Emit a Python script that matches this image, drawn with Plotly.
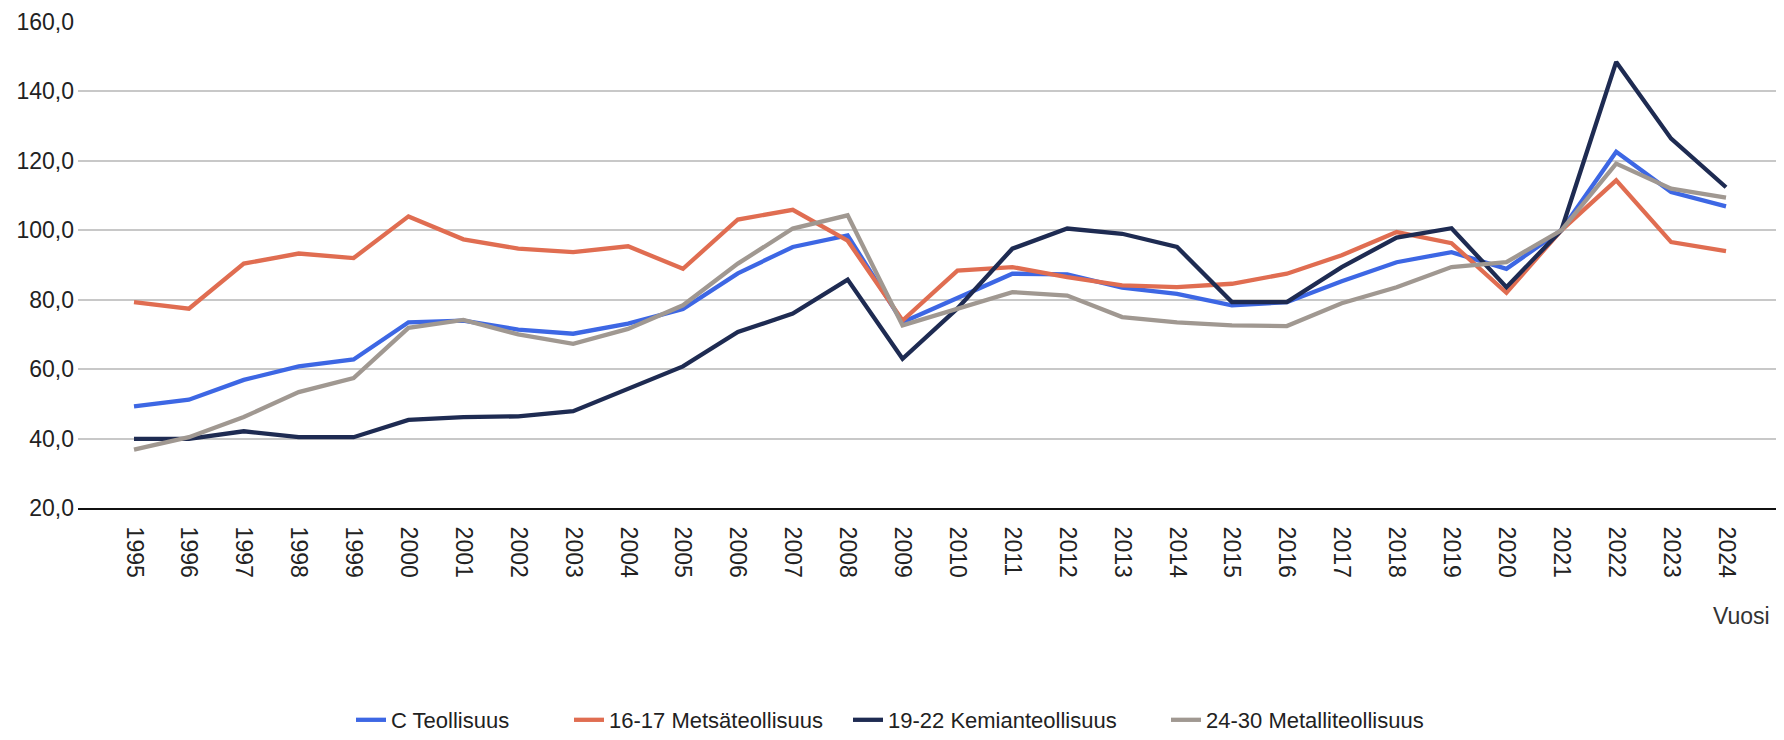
import plotly.graph_objects as go

years = [str(y) for y in range(1995, 2025)]

c_teollisuus = [49.3, 51.2, 56.9, 60.8, 62.8, 73.5, 74.0, 71.4, 70.2, 73.1,
                77.3, 87.6, 95.2, 98.5, 73.5, 80.5, 87.5, 87.3, 83.5, 81.7,
                78.4, 79.3, 85.3, 90.8, 93.7, 88.9, 100.0, 122.6, 111.0, 106.9]
metsateollisuus = [79.3, 77.4, 90.4, 93.3, 92.0, 104.0, 97.4, 94.7, 93.7, 95.4,
                   88.9, 103.1, 105.9, 97.0, 74.0, 88.4, 89.4, 86.5, 84.1, 83.6,
                   84.6, 87.5, 92.8, 99.5, 96.3, 82.0, 100.0, 114.4, 96.6, 94.0]
kemianteollisuus = [39.9, 39.9, 42.1, 40.4, 40.4, 45.4, 46.2, 46.4, 47.9, 54.4,
                    60.8, 70.7, 76.0, 85.8, 63.0, 77.5, 94.7, 100.5, 99.0, 95.2,
                    79.3, 79.3, 89.4, 97.9, 100.6, 83.6, 100.0, 148.5, 126.4, 112.4]
metalliteollisuus = [36.8, 40.4, 46.2, 53.4, 57.4, 71.9, 74.2, 70.0, 67.3, 71.6,
                     78.4, 90.4, 100.5, 104.3, 72.6, 77.4, 82.2, 81.2, 75.0, 73.5,
                     72.6, 72.4, 79.0, 83.6, 89.4, 90.8, 100.0, 119.2, 112.0, 109.4]

series_names = ["C Teollisuus", "16-17 Metsäteollisuus",
                "19-22 Kemianteollisuus", "24-30 Metalliteollisuus"]
series_values = [c_teollisuus, metsateollisuus, kemianteollisuus, metalliteollisuus]
colors = ["#3d67e4", "#e06d51", "#1e2b52", "#a09891"]
legend_ids = ["legend", "legend2", "legend3", "legend4"]
legend_x_px = [343, 561, 840, 1158]

FONT = "Liberation Sans, Arial, sans-serif"
# the page body keeps its default 8px margin; the figure is offset by it
W, H = 1776, 732
PLOT_L, PLOT_R, PLOT_T, PLOT_B = 70, 1774, 14, 500

fig = go.Figure()
for name, vals, col, lid in zip(series_names, series_values, colors, legend_ids):
    fig.add_trace(go.Scatter(
        x=years, y=vals, name=name, mode="lines",
        line=dict(color=col, width=4.3),
        legend=lid,
    ))

legend_common = dict(
    orientation="h", xref="container", yref="container",
    yanchor="middle", xanchor="left", y=1 - 712 / H,
    font=dict(family=FONT, size=22, color="#222222"),
    bgcolor="rgba(0,0,0,0)", borderwidth=0,
)

fig.update_layout(
    width=W, height=H,
    paper_bgcolor="white", plot_bgcolor="white",
    margin=dict(l=PLOT_L, r=W - PLOT_R, t=PLOT_T, b=H - PLOT_B, autoexpand=False),
    separators=", ",
    font=dict(family=FONT, size=23, color="#222222"),
    showlegend=True,
    legend=dict(legend_common, x=legend_x_px[0] / W),
    legend2=dict(legend_common, x=legend_x_px[1] / W),
    legend3=dict(legend_common, x=legend_x_px[2] / W),
    legend4=dict(legend_common, x=legend_x_px[3] / W),
    xaxis=dict(
        type="category", range=[-1.02, 30.02], automargin=False,
        showgrid=False, showline=True, linecolor="#111111", linewidth=2,
        tickangle=90, ticks="outside", ticklen=12, tickcolor="rgba(0,0,0,0)",
        tickfont=dict(family=FONT, size=23, color="#222222"),
        zeroline=False,
    ),
    yaxis=dict(
        range=[20, 160], dtick=20, tick0=20, tickformat=".1f", automargin=False,
        showgrid=True, gridcolor="#c8c8c8", gridwidth=1.5,
        zeroline=False, showline=False,
        ticklabelstandoff=3,
        tickfont=dict(family=FONT, size=23, color="#222222"),
    ),
    annotations=[dict(
        text="Vuosi", xref="paper", yref="paper",
        x=(1764 - PLOT_L) / (PLOT_R - PLOT_L), y=(PLOT_B - 608) / (PLOT_B - PLOT_T),
        xanchor="right", yanchor="middle", showarrow=False,
        font=dict(family=FONT, size=23, color="#333333"),
    )],
)

fig.write_html("out.html")
